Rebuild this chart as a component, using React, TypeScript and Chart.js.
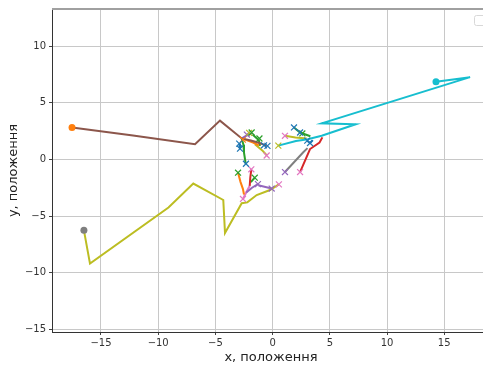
import React, { useEffect, useRef } from "react";
import { Chart, registerables } from "chart.js";

Chart.register(...registerables);

const C = {
  blue: "#1f77b4",
  orange: "#ff7f0e",
  green: "#2ca02c",
  red: "#d62728",
  purple: "#9467bd",
  brown: "#8c564b",
  pink: "#e377c2",
  gray: "#7f7f7f",
  olive: "#bcbd22",
  cyan: "#17becf",
};

const xTicks = [-15, -10, -5, 0, 5, 10, 15];
const yTicks = [-15, -10, -5, 0, 5, 10];
const xLabel = "x, положення";
const yLabel = "y, положення";

// long trajectories
const brownPath = [[-17.53, 2.82], [-12.2, 2.12], [-6.78, 1.34], [-4.6, 3.43], [-2.7, 1.86], [-1.9, 1.68], [-1.28, 1.5], [-0.52, 1.22]];
const olivePath = [[-16.49, -6.26], [-15.96, -9.2], [-9.1, -4.25], [-6.93, -2.13], [-4.31, -3.58], [-4.16, -6.49], [-2.7, -3.87], [-2.21, -3.79], [-1.39, -3.14], [-0.23, -2.7], [0.55, -2.2]];
const cyanPath = [[14.28, 6.86], [17.26, 7.27], [4.29, 3.19], [7.26, 3.11], [4.29, 2.09], [3.07, 1.78], [2.04, 1.63], [0.5, 1.22]];

// short trajectories
const purpleA = [[-2.7, 1.86], [-2.2, 2.15], [-1.8, 2.3]];
const greenA = [[-2.7, 1.86], [-2.55, 1.3], [-2.5, 0.6], [-2.35, -0.38]];
const blueA = [[-2.92, 1.4], [-2.85, 0.95]];
const orangeA = [[-2.7, 1.86], [-1.7, 1.5], [-1.2, 1.25]];
const greenB = [[-1.75, 2.2], [-1.2, 1.7], [-1.1, 1.2]];
const oliveA = [[-1.55, 1.35], [-0.9, 0.8], [-0.5, 0.35]];
const greenC = [[1.87, 2.83], [2.4, 2.38], [3.3, 2.05]];
const blueB = [[3.03, 1.66], [3.27, 1.45], [3.5, 1.7]];
const oliveB = [[1.08, 2.09], [2.0, 1.95], [2.98, 1.86]];
const grayA = [[1.08, -1.11], [2.68, 0.64], [3.05, 1.0]];
const redA = [[2.4, -1.11], [3.27, 0.92], [4.1, 1.5], [4.35, 1.95]];
const orangeB = [[-3.02, -1.17], [-2.8, -2.0], [-2.59, -2.62], [-2.5, -3.1]];
const redB = [[-1.86, -0.87], [-1.95, -1.6], [-2.0, -2.33]];
const greenD = [[-1.56, -1.61], [-1.9, -2.0]];
const purpleB = [[-1.28, -2.18], [-1.8, -2.5], [-2.3, -2.91]];
const pinkA = [[-2.0, -2.33], [-2.3, -2.9], [-2.59, -3.49]];
const purpleC = [[-1.25, -2.27], [-0.08, -2.57]];

// start dots
const startDots = [
  { color: C.orange, pts: [[-17.53, 2.82]] },
  { color: C.gray, pts: [[-16.49, -6.26]] },
  { color: C.cyan, pts: [[14.28, 6.86]] },
];

// end crosses
const blueX = [[-2.33, -0.38], [-2.92, 1.4], [-2.85, 0.95], [-0.75, 1.25], [-0.45, 1.2], [1.87, 2.83], [2.4, 2.38], [3.03, 1.66], [3.27, 1.45]];
const greenX = [[-1.83, 2.38], [-1.15, 1.85], [-3.02, -1.17], [-1.56, -1.61], [2.6, 2.3]];
const oliveX = [[-2.05, 2.35], [0.5, 1.22]];
const pinkX = [[-0.52, 0.35], [1.08, 2.09], [2.4, -1.11], [-1.86, -0.87], [-2.59, -3.49], [0.55, -2.2]];
const purpleX = [[1.08, -1.11], [-1.28, -2.18], [-0.08, -2.57], [-2.25, 2.2]];
const orangeX = [[-2.6, 1.75]];

const lines = [
  { color: C.brown, pts: brownPath },
  { color: C.olive, pts: olivePath },
  { color: C.cyan, pts: cyanPath },
  { color: C.purple, pts: purpleA },
  { color: C.green, pts: greenA },
  { color: C.blue, pts: blueA },
  { color: C.orange, pts: orangeA },
  { color: C.green, pts: greenB },
  { color: C.olive, pts: oliveA },
  { color: C.green, pts: greenC },
  { color: C.blue, pts: blueB },
  { color: C.olive, pts: oliveB },
  { color: C.gray, pts: grayA },
  { color: C.red, pts: redA },
  { color: C.orange, pts: orangeB },
  { color: C.red, pts: redB },
  { color: C.green, pts: greenD },
  { color: C.purple, pts: purpleB },
  { color: C.pink, pts: pinkA },
  { color: C.purple, pts: purpleC },
];

const crosses = [
  { color: C.blue, pts: blueX },
  { color: C.green, pts: greenX },
  { color: C.olive, pts: oliveX },
  { color: C.pink, pts: pinkX },
  { color: C.purple, pts: purpleX },
  { color: C.orange, pts: orangeX },
];

const toXY = (pts: number[][]) => pts.map(([x, y]) => ({ x, y }));
const fmt = (v: number) => (v < 0 ? "\u2212" + Math.abs(v) : String(v));

const framePlugin = {
  id: "frame",
  afterDraw(chart: any) {
    const { ctx, chartArea } = chart;
    ctx.save();
    ctx.strokeStyle = "#a0a0a0";
    ctx.lineWidth = 2;
    ctx.beginPath();
    ctx.moveTo(chartArea.left, chartArea.top);
    ctx.lineTo(chartArea.right, chartArea.top);
    ctx.stroke();
    // empty legend box
    ctx.strokeStyle = "#d8d8d8";
    ctx.lineWidth = 1;
    const bx = chartArea.right - 16, by = chartArea.top + 6, bw = 11, bh = 10;
    ctx.beginPath();
    if ((ctx as any).roundRect) (ctx as any).roundRect(bx + 0.5, by + 0.5, bw, bh, 2);
    else ctx.rect(bx + 0.5, by + 0.5, bw, bh);
    ctx.fillStyle = "rgba(255,255,255,0.8)";
    ctx.fill();
    ctx.stroke();
    ctx.restore();
  },
};

export default function App() {
  const ref = useRef<HTMLCanvasElement | null>(null);

  useEffect(() => {
    if (!ref.current) return;
    const datasets: any[] = [];
    startDots.forEach((d) =>
      datasets.push({
        data: toXY(d.pts),
        showLine: false,
        pointStyle: "circle",
        pointRadius: 3.5,
        pointBackgroundColor: d.color,
        pointBorderColor: d.color,
        pointBorderWidth: 0,
      })
    );
    crosses.forEach((d) =>
      datasets.push({
        data: toXY(d.pts),
        showLine: false,
        pointStyle: "crossRot",
        pointRadius: 4.2,
        pointBorderColor: d.color,
        pointBackgroundColor: d.color,
        pointBorderWidth: 1.2,
      })
    );
    lines.forEach((d) =>
      datasets.push({
        data: toXY(d.pts),
        showLine: true,
        borderColor: d.color,
        borderWidth: 2,
        pointRadius: 0,
        tension: 0,
        fill: false,
      })
    );

    const chart = new Chart(ref.current, {
      type: "scatter",
      data: { datasets },
      options: {
        animation: false,
        responsive: false,
        devicePixelRatio: 1,
        layout: { padding: { top: 5, right: 10, left: 0, bottom: 0 } },
        plugins: { legend: { display: false }, tooltip: { enabled: false } },
        scales: {
          x: {
            type: "linear",
            min: -19.28,
            max: 19.0,
            afterBuildTicks: (s: any) => {
              s.ticks = xTicks.map((v) => ({ value: v }));
            },
            afterFit: (s: any) => {
              s.height = 34;
            },
            grid: { color: "#c8c8c8", lineWidth: 1, tickLength: 3, tickColor: "#444", drawTicks: true },
            border: { display: true, color: "#333", width: 1 },
            ticks: {
              padding: 2,
              color: "#333",
              font: { family: "DejaVu Sans", size: 10 },
              maxRotation: 0,
              autoSkip: false,
              callback: (v: any) => fmt(Number(v)),
            },
            title: {
              display: true,
              text: xLabel,
              color: "#222",
              font: { family: "DejaVu Sans", size: 13 },
              padding: { top: 0, bottom: 1 },
            },
          },
          y: {
            type: "linear",
            min: -15.24,
            max: 13.29,
            afterBuildTicks: (s: any) => {
              s.ticks = yTicks.map((v) => ({ value: v }));
            },
            afterFit: (s: any) => {
              s.width = 52;
            },
            grid: { color: "#c8c8c8", lineWidth: 1, tickLength: 3, tickColor: "#444", drawTicks: true },
            border: { display: true, color: "#333", width: 1 },
            ticks: {
              padding: 3,
              color: "#333",
              font: { family: "DejaVu Sans", size: 10 },
              autoSkip: false,
              callback: (v: any) => fmt(Number(v)),
            },
            title: {
              display: true,
              text: yLabel,
              color: "#222",
              font: { family: "DejaVu Sans", size: 13 },
              padding: { top: 6, bottom: 0 },
            },
          },
        },
      },
      plugins: [framePlugin],
    } as any);

    return () => chart.destroy();
  }, []);

  return (
    <div
      style={{
        position: "fixed",
        left: 0,
        top: 0,
        width: 483,
        height: 366,
        overflow: "hidden",
        background: "#fff",
      }}
    >
      <canvas ref={ref} width={500} height={366} style={{ display: "block" }} />
    </div>
  );
}
